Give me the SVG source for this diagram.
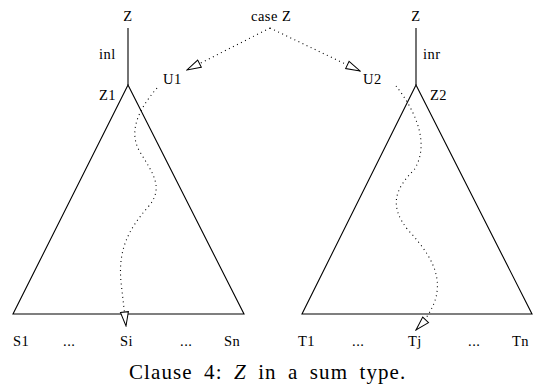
<svg xmlns="http://www.w3.org/2000/svg" width="543" height="389" viewBox="0 0 543 389">
<defs>
<style>
text{font-family:"Liberation Serif","DejaVu Serif",serif;fill:#000}
.lbl{font-size:14.5px;letter-spacing:0.5px}
.cap{font-size:21px;letter-spacing:1.1px;word-spacing:5px}
.solid{fill:none;stroke:#000;stroke-width:1.1}
.dot{fill:none;stroke:#000;stroke-width:1.1;stroke-dasharray:1 3.5}
</style>
<marker id="arr" markerWidth="16" markerHeight="12" refX="15" refY="5" orient="auto" markerUnits="userSpaceOnUse">
<path d="M1,1 L15,5 L1,9 Z" fill="#fff" stroke="#000" stroke-width="1" stroke-dasharray="none"/>
</marker>
</defs>
<rect width="543" height="389" fill="#fff"/>
<g id="tree-left">
<line class="solid" x1="128" y1="28" x2="128" y2="85"/>
<path class="solid" d="M128,85 L13,314 L244,314 Z"/>
<text class="lbl" x="128" y="21" text-anchor="middle">Z</text>
<text class="lbl" x="99" y="59">inl</text>
<text class="lbl" x="99" y="100">Z1</text>
</g>
<g id="tree-right">
<line class="solid" x1="416" y1="28" x2="416" y2="85"/>
<path class="solid" d="M416,85 L302,314 L532,314 Z"/>
<text class="lbl" x="416" y="21" text-anchor="middle">Z</text>
<text class="lbl" x="423" y="59">inr</text>
<text class="lbl" x="430" y="100">Z2</text>
</g>
<g id="case">
<text class="lbl" x="251" y="21">case Z</text>
</g>
<g id="u1"><text class="lbl" x="163" y="84">U1</text></g>
<g id="u2"><text class="lbl" x="363" y="84">U2</text></g>
<g id="leaves-left">
<text class="lbl" x="13" y="346">S1</text>
<text class="lbl" x="63" y="346">...</text>
<text class="lbl" x="120" y="346">Si</text>
<text class="lbl" x="180" y="346">...</text>
<text class="lbl" x="224" y="346">Sn</text>
</g>
<g id="leaves-right">
<text class="lbl" x="298" y="346">T1</text>
<text class="lbl" x="352" y="346">...</text>
<text class="lbl" x="408" y="346">Tj</text>
<text class="lbl" x="468" y="346">...</text>
<text class="lbl" x="512" y="346">Tn</text>
</g>
<g id="connectors">
<path class="dot" d="M270,28 L187,70" marker-end="url(#arr)"/>
<path class="dot" d="M270,28 L360,71" marker-end="url(#arr)"/>
<path class="dot" d="M157,88 C138,110 128,132 140,152 C152,172 165,188 148,207 C128,230 118,250 121,282 L126,326" marker-end="url(#arr)"/>
<path class="dot" d="M396,86 C412,106 432,142 414,170 C396,188 388,205 408,230 C438,262 452,292 416,330" marker-end="url(#arr)"/>
</g>
<g id="caption">
<text class="cap" x="129" y="379">Clause 4: <tspan font-style="italic">Z</tspan> in a sum type.</text>
</g>
</svg>
